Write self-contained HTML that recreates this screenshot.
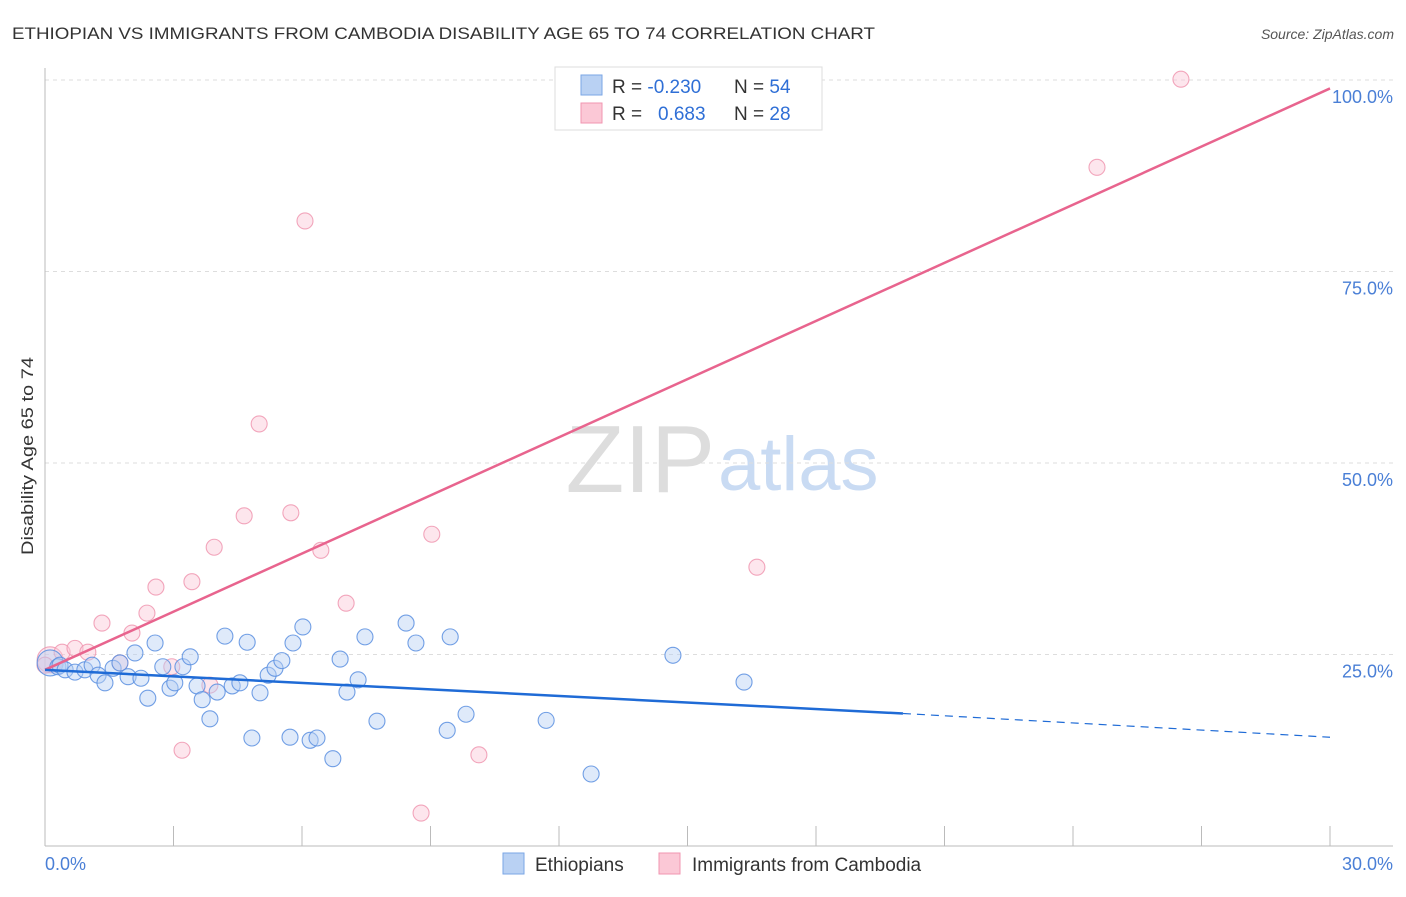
<!DOCTYPE html>
<html><head><meta charset="utf-8"><style>
body{margin:0;background:#fff;font-family:"Liberation Sans",sans-serif;}
svg text{font-family:"Liberation Sans",sans-serif;}
</style></head><body>
<svg width="1406" height="892" xmlns="http://www.w3.org/2000/svg" id="chart">
<text x="12" y="39" font-size="17" fill="#333" textLength="863" lengthAdjust="spacingAndGlyphs">ETHIOPIAN VS IMMIGRANTS FROM CAMBODIA DISABILITY AGE 65 TO 74 CORRELATION CHART</text>
<text x="1394" y="39" font-size="14" fill="#555" font-style="italic" text-anchor="end">Source: ZipAtlas.com</text>
<text x="715" y="492" font-size="96" fill="#ddd" text-anchor="end" font-family="Liberation Serif">ZIP</text>
<text x="718" y="490" font-size="76" fill="#c9dbf3">atlas</text>
<g id="grid"></g><g id="axes"></g><g id="pts"></g><g id="lines"></g>
<text transform="translate(33,456) rotate(-90)" font-size="17" fill="#333" text-anchor="middle" textLength="198" lengthAdjust="spacingAndGlyphs">Disability Age 65 to 74</text>
<g>
<rect x="555" y="67" width="267" height="63" fill="#fff" stroke="#ddd"/>
<rect x="581" y="75" width="21" height="20" fill="#b9d1f3" stroke="#7aa6e6"/>
<rect x="581" y="103" width="21" height="20" fill="#fbc8d6" stroke="#f096b0"/>
<text x="612" y="93" font-size="19" fill="#333">R = <tspan fill="#2f6fd6">-0.230</tspan><tspan x="734">N = </tspan><tspan fill="#2f6fd6">54</tspan></text>
<text x="612" y="120" font-size="19" fill="#333">R = <tspan x="658" fill="#2f6fd6">0.683</tspan><tspan x="734">N = </tspan><tspan fill="#2f6fd6">28</tspan></text>
</g>
<g>
<rect x="503" y="853" width="21" height="21" fill="#b9d1f3" stroke="#7aa6e6"/>
<text x="535" y="871" font-size="19" fill="#333">Ethiopians</text>
<rect x="659" y="853" width="21" height="21" fill="#fbc8d6" stroke="#f096b0"/>
<text x="692" y="871" font-size="19" fill="#333">Immigrants from Cambodia</text>
</g>
</svg>
<script>
const blueX=[0.12,0.30,0.35,0.47,0.70,0.93,1.10,1.24,1.40,1.59,1.75,1.94,2.10,2.24,2.40,2.57,2.75,2.92,3.03,3.22,3.39,3.55,3.67,3.85,4.02,4.20,4.37,4.55,4.72,4.83,5.02,5.21,5.37,5.53,5.72,5.79,6.02,6.19,6.35,6.72,6.89,7.05,7.31,7.47,7.75,8.43,8.66,9.39,9.46,9.83,11.70,12.75,14.66,16.32];
const blueY=[23.9,23.4,23.6,23.0,22.7,23.0,23.6,22.3,21.3,23.2,23.9,22.1,25.2,21.9,19.3,26.5,23.4,20.6,21.3,23.4,24.7,20.9,19.1,16.6,20.1,27.4,20.9,21.3,26.6,14.1,20.0,22.3,23.2,24.2,14.2,26.5,28.6,13.8,14.1,11.4,24.4,20.1,21.7,27.3,16.3,29.1,26.5,15.1,27.3,17.2,16.4,9.4,24.9,21.4];
const pinkX=[0.12,0,0.40,0.70,1.00,1.33,1.75,2.03,2.38,2.59,2.96,3.20,3.43,3.85,3.95,4.65,5.00,5.74,6.07,6.44,7.03,8.78,9.03,10.13,16.62,24.56,26.52];
const pinkY=[24.3,23.6,25.3,25.8,25.3,29.1,23.9,27.8,30.4,33.8,23.4,12.5,34.5,21.0,39.0,43.1,55.1,43.5,81.6,38.6,31.7,4.3,40.7,11.9,36.4,88.6,100.1];
const pinkLine=[[0,23.0],[30,98.9]];
const blueSolid=[[0,23.0],[20.03,17.3]];
const blueDash=[[20.03,17.3],[30,14.2]];
const yTicks=[25,50,75,100];
const yTickLabels=["25.0%","50.0%","75.0%","100.0%"];
const xTickCount=10;
const X=v=>45+v/30*1285, Y=v=>846-v/100*766;
const NS="http://www.w3.org/2000/svg";
function mk(tag,attrs,parent){const e=document.createElementNS(NS,tag);for(const k in attrs)e.setAttribute(k,attrs[k]);document.getElementById(parent).appendChild(e);return e;}
yTicks.forEach((t,i)=>{
 const g=mk('line',{x1:45,x2:1393,y1:Y(t),y2:Y(t),stroke:'#ddd','stroke-dasharray':'4,4'},'grid');
 
 
 const l=mk('text',{x:1393,y:Y(t)+23,'font-size':18,fill:'#4a7fd6','text-anchor':'end'},'axes');
 l.textContent=yTickLabels[i];
 
 
});
const ax=mk('line',{x1:45,x2:45,y1:68,y2:846,stroke:'#bbb'},'axes');


const bx=mk('line',{x1:45,x2:1393,y1:846,y2:846,stroke:'#bbb'},'axes');


for(let i=1;i<=xTickCount;i++){
 const t=mk('line',{x1:X(i*3),x2:X(i*3),y1:826,y2:846,stroke:'#bbb'},'axes');
 
 
}
[["0.0%",45,'start'],["30.0%",1393,'end']].forEach(a=>{
 const l=mk('text',{x:a[1],y:870,'font-size':18,fill:'#4a7fd6','text-anchor':a[2]},'axes');
 l.textContent=a[0];
 
 
});
function pts(xs,ys,fill,stroke,name){
 xs.forEach((x,i)=>{
  const r=(i===0)?13:8;
  const c=mk('circle',{cx:X(x),cy:Y(ys[i]),r:r,fill:fill,'fill-opacity':0.45,stroke:stroke,'stroke-width':1.1,'stroke-opacity':0.85},'pts');
  
  
 });
}
pts(pinkX,pinkY,'#fbc8d6','#f096b0','cambodia-point');
pts(blueX,blueY,'#b9d1f3','#5b8fe0','ethiopian-point');
function ln(p,color,dash,name,w){
 const l=mk('line',{x1:X(p[0][0]),y1:Y(p[0][1]),x2:X(p[1][0]),y2:Y(p[1][1]),stroke:color,'stroke-width':w},'lines');
 if(dash)l.setAttribute('stroke-dasharray',dash);
 
 
}
ln(pinkLine,'#e8648e',null,'cambodia-trend-line',2.5);
ln(blueSolid,'#1f6bd6',null,'ethiopian-trend-line',2.5);
ln(blueDash,'#1f6bd6','8,6','ethiopian-trend-extension',1.2);
</script>
</body></html>
